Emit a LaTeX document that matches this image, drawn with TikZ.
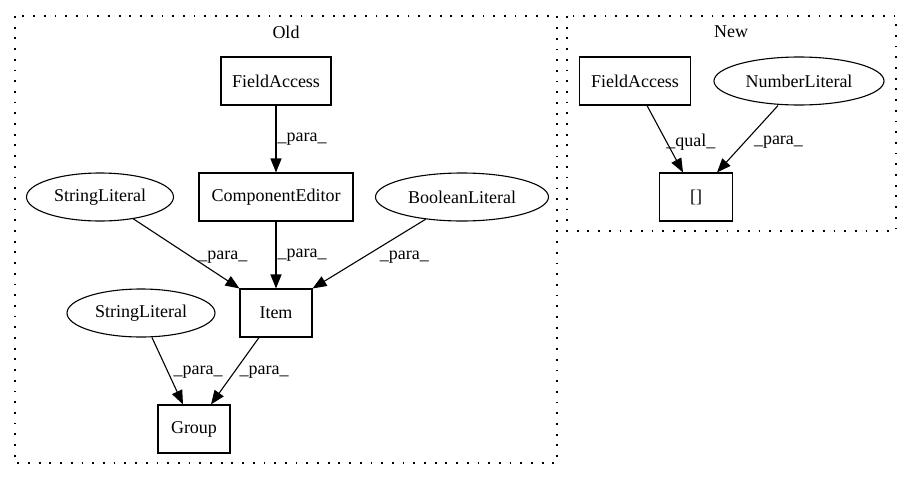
\documentclass[tikz,border=0pt]{standalone}
\usepackage{fontspec}
\setmainfont{Liberation Serif}
\usetikzlibrary{arrows.meta,shapes.geometric}
\begin{document}
\begin{tikzpicture}[x=1pt,y=-1pt,
  every node/.style={font=\fontsize{18}{20}\selectfont},
  boxnode/.style={draw, line width=1.1pt, rectangle, minimum height=48pt, inner sep=0pt},
  ellnode/.style={draw, line width=1.1pt, ellipse, minimum height=48pt, inner sep=0pt},
  conn/.style={line width=1.1pt, -{Triangle[length=14pt,width=11pt]}},
  elab/.style={inner sep=1pt, anchor=west},
  cluster/.style={draw, line width=1.3pt, dash pattern=on 1.8pt off 8.9pt}]
\useasboundingbox (0,0) rectangle (911,480);
% clusters
\draw[cluster] (15,16) rectangle (557,463);
\draw[cluster] (567,16) rectangle (896,231);
\node (oldt) at (286,32) {Old};
\node (newt) at (731,32) {New};
% Old nodes
\node[boxnode, minimum width=110pt] (fa1) at (276,81) {FieldAccess};
\node[boxnode, minimum width=154pt] (ce) at (276,197) {ComponentEditor};
\node[ellnode, minimum width=147pt] (sl1) at (100,197) {StringLiteral};
\node[ellnode, minimum width=173pt] (bl) at (462,197) {BooleanLiteral};
\node[boxnode, minimum width=72pt] (item) at (276,313) {Item};
\node[ellnode, minimum width=148pt] (sl2) at (141,313) {StringLiteral};
\node[boxnode, minimum width=72pt] (group) at (194,429) {Group};
% New nodes
\node[boxnode, minimum width=111pt] (fa2) at (635,81) {FieldAccess};
\node[ellnode, minimum width=170pt] (nl) at (799,81) {NumberLiteral};
\node[boxnode, minimum width=73pt] (br) at (696,197) {[]};
% Old edges
\draw[conn] (fa1) -- (ce) node[elab, midway] {\_para\_};
\draw[conn] (sl1) -- (item.north west) node[elab, pos=0.55, xshift=5pt] {\_para\_};
\draw[conn] (ce) -- (item) node[elab, midway] {\_para\_};
\draw[conn] (bl) -- (item.north east) node[elab, pos=0.55, xshift=15pt] {\_para\_};
\draw[conn] ([xshift=11pt]sl2.south) -- ([xshift=-11pt]group.north) node[elab, pos=0.52, xshift=4pt] {\_para\_};
\draw[conn] ([xshift=-17pt]item.south) -- ([xshift=17pt]group.north) node[elab, pos=0.52, xshift=4pt] {\_para\_};
% New edges
\draw[conn] ([xshift=12pt]fa2.south) -- ([xshift=-13pt]br.north) node[elab, pos=0.55, xshift=-2pt] {\_qual\_};
\draw[conn] ([xshift=-21pt]nl.south) -- ([xshift=21pt]br.north) node[elab, pos=0.55, xshift=8pt] {\_para\_};
\end{tikzpicture}
\end{document}
